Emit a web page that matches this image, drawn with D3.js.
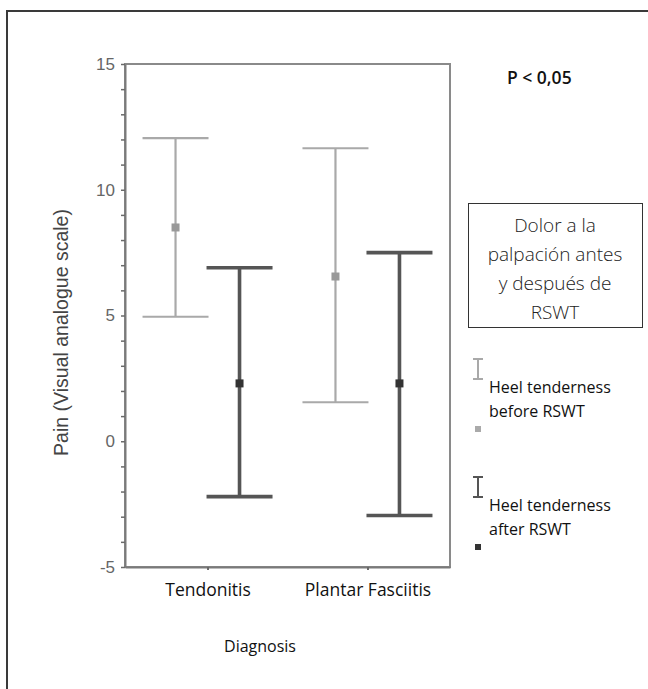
<!DOCTYPE html>
<html>
<head>
<meta charset="utf-8">
<script src="https://cdn.jsdelivr.net/npm/d3@7"></script>
<style>
  body { margin: 0; background: #fff; }
  svg { display: block; }
</style>
</head>
<body>
<div id="chart"></div>
<script>
// values
const categories = ["Tendonitis", "Plantar Fasciitis"];
const seriesKeys = ["before", "after"];
const seriesLabels = [["Heel tenderness", "before RSWT"], ["Heel tenderness", "after RSWT"]];
const beforeMean = [8.5, 6.55];
const beforeLow = [4.95, 1.55];
const beforeHigh = [12.05, 11.65];
const afterMean = [2.3, 2.3];
const afterLow = [-2.2, -2.95];
const afterHigh = [6.9, 7.5];
const yTicks = [-5, 0, 5, 10, 15];
const boxLines = ["Dolor a la", "palpación antes", "y después de", "RSWT"];

const width = 648, height = 689;
const plot = {left: 125, right: 450, top: 64, bottom: 567};
const textFont = "'Open Sans', 'Noto Sans', sans-serif";
const axisFont = "'Liberation Sans', Arial, sans-serif";

const svg = d3.select("#chart").append("svg")
  .attr("width", width)
  .attr("height", height);

// outer frame (left + top only visible)
svg.append("path")
  .attr("d", `M7,${height} L7,11 L${width},11`)
  .attr("fill", "none")
  .attr("stroke", "#3a3a3a")
  .attr("stroke-width", 2);

const y = d3.scaleLinear().domain([-5, 15]).range([plot.bottom, plot.top]);
const x = d3.scalePoint().domain(categories).range([plot.left, plot.right]).padding(0.516);
const offset = d3.scalePoint().domain(seriesKeys).range([-32, 32]);

// plot frame
svg.append("rect")
  .attr("x", plot.left).attr("y", plot.top)
  .attr("width", plot.right - plot.left).attr("height", plot.bottom - plot.top)
  .attr("fill", "none").attr("stroke", "#8a8a8a").attr("stroke-width", 2);

const yAxis = d3.axisLeft(y)
  .tickValues(d3.range(-5, 16, 1))
  .tickSize(4)
  .tickSizeOuter(0)
  .tickPadding(6)
  .tickFormat(d => yTicks.includes(d) ? d : "");

const gy = svg.append("g").attr("transform", `translate(${plot.left},0)`).call(yAxis);
gy.select(".domain").attr("stroke", "#7a7a7a").attr("stroke-width", 2);
gy.selectAll(".tick line").attr("stroke", "#6a6a6a").attr("stroke-width", 1.5);
gy.selectAll(".tick text").attr("fill", "#666").style("font-family", axisFont).style("font-size", "17px");

const xAxis = d3.axisBottom(x).tickSize(3).tickSizeOuter(0).tickPadding(14);
const gx = svg.append("g").attr("transform", `translate(0,${plot.bottom})`).call(xAxis);
gx.select(".domain").attr("stroke", "#7a7a7a").attr("stroke-width", 2);
gx.selectAll(".tick line").attr("stroke", "#6a6a6a").attr("stroke-width", 2);
gx.selectAll(".tick text").attr("fill", "#111").style("font-family", textFont).style("font-size", "17.5px");

// y axis title
svg.append("text")
  .attr("transform", `translate(68,${(plot.top + plot.bottom) / 2 + 17}) rotate(-90)`)
  .attr("text-anchor", "middle")
  .attr("fill", "#444")
  .style("font-family", axisFont)
  .style("font-size", "19.5px")
  .text("Pain (Visual analogue scale)");

// x axis title
svg.append("text")
  .attr("x", 260).attr("y", 652)
  .attr("text-anchor", "middle")
  .attr("fill", "#111")
  .style("font-family", textFont)
  .style("font-size", "16px")
  .text("Diagnosis");

const seriesData = [
  {key: "before", mean: beforeMean, low: beforeLow, high: beforeHigh, color: "#a9a9a9", sw: 2.2},
  {key: "after", mean: afterMean, low: afterLow, high: afterHigh, color: "#555", sw: 3.6}
];
const capHalf = 33;

seriesData.forEach(s => {
  const rows = categories.map((c, i) => ({cat: c, mean: s.mean[i], low: s.low[i], high: s.high[i]}));
  const g = svg.append("g").attr("stroke", s.color).attr("stroke-width", s.sw);
  const cx = d => x(d.cat) + offset(s.key);
  g.selectAll(".stem").data(rows).enter().append("line")
    .attr("x1", cx).attr("x2", cx)
    .attr("y1", d => y(d.high)).attr("y2", d => y(d.low));
  g.selectAll(".capHi").data(rows).enter().append("line")
    .attr("x1", d => cx(d) - capHalf).attr("x2", d => cx(d) + capHalf)
    .attr("y1", d => y(d.high)).attr("y2", d => y(d.high));
  g.selectAll(".capLo").data(rows).enter().append("line")
    .attr("x1", d => cx(d) - capHalf).attr("x2", d => cx(d) + capHalf)
    .attr("y1", d => y(d.low)).attr("y2", d => y(d.low));
  svg.selectAll(".mean-" + s.key).data(rows).enter().append("rect")
    .attr("x", d => cx(d) - 4).attr("y", d => y(d.mean) - 4)
    .attr("width", 8).attr("height", 8)
    .attr("fill", s.key === "after" ? "#333" : "#999");
});

// P value
svg.append("text")
  .attr("x", 507).attr("y", 84)
  .attr("fill", "#111")
  .style("font-family", textFont)
  .style("font-size", "17.5px")
  .style("font-weight", 600)
  .text("P < 0,05");

// text box
svg.append("rect")
  .attr("x", 468.5).attr("y", 203.5).attr("width", 174).attr("height", 124)
  .attr("fill", "#fff").attr("stroke", "#333").attr("stroke-width", 1);
svg.append("g").selectAll("text").data(boxLines).enter().append("text")
  .attr("x", 555).attr("y", (d, i) => 232 + i * 29)
  .attr("text-anchor", "middle")
  .attr("fill", "#222")
  .style("font-family", textFont)
  .style("font-size", "19px")
  .style("font-weight", 300)
  .text(d => d);

// legend
const legendY = [359, 477];
const legend = svg.append("g").selectAll("g").data(seriesData).enter().append("g")
  .attr("transform", (d, i) => `translate(478,${legendY[i]})`);
legend.append("path")
  .attr("d", "M-5,0 H5 M0,0 V20 M-5,20 H5")
  .attr("fill", "none")
  .attr("stroke", d => d.color)
  .attr("stroke-width", 2);
legend.append("rect")
  .attr("x", -3).attr("y", 67).attr("width", 6).attr("height", 6)
  .attr("fill", (d, i) => i === 1 ? "#333" : "#aaa");
legend.each(function(d, i) {
  d3.select(this).selectAll("text").data(seriesLabels[i]).enter().append("text")
    .attr("x", 11).attr("y", (t, j) => 34 + j * 24)
    .attr("fill", "#111")
    .style("font-family", textFont)
    .style("font-size", "16px")
    .text(t => t);
});
</script>
</body>
</html>
